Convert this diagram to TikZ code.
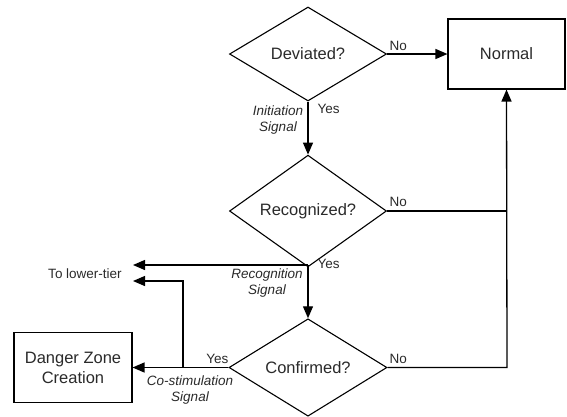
\documentclass[tikz,border=0pt]{standalone}
\usepackage{fontspec}
\setmainfont{Liberation Sans}
\usetikzlibrary{shapes.geometric,arrows.meta}
\definecolor{txt}{HTML}{2A2A2A}
\begin{document}
\begin{tikzpicture}[x=1pt,y=-1pt,
  line width=1.3pt,
  every node/.style={text=txt},
  decision/.style={diamond,draw=black,line width=1.1pt,minimum width=157pt,minimum height=94pt,inner sep=0pt,font=\fontsize{16.5}{19}\selectfont},
  box/.style={rectangle,draw=black,line width=1.1pt,minimum width=117pt,minimum height=70pt,inner sep=0pt,align=center,font=\fontsize{16.5}{20}\selectfont},
  lbl/.style={font=\fontsize{13.5}{15}\selectfont,inner sep=0pt},
  sig/.style={font=\fontsize{13.5}{16}\selectfont\itshape,inner sep=0pt,align=center},
  arr/.style={-{Triangle[length=12pt,width=10pt]}}
]
\useasboundingbox (0,0) rectangle (567,416);

\node[decision] (dev) at (308,54) {Deviated?};
\node[box] (normal) at (506.5,54) {Normal};
\node[decision] (rec) at (308,211) {Recognized?};
\node[decision,minimum width=158pt,minimum height=95pt] (conf) at (308,367.5) {Confirmed?};
\node[box,minimum width=118pt] (danger) at (73,367.5) {Danger Zone\\Creation};

\coordinate (j1) at (308,265);
\coordinate (tl1) at (133,265);
\coordinate (tl2) at (133,281);
\coordinate (c1) at (183,281);
\coordinate (c2) at (183,367.5);
\coordinate (r1) at (507,211);
\coordinate (r2) at (507,367.5);

\draw[arr] (dev.east) -- (normal.west);
\draw[arr] (dev.south) -- (rec.north);
\draw (rec.south) -- (j1);
\draw[arr] (j1) -- (conf.north);
\draw[arr] (j1) -- (tl1);
\draw[arr] (conf.west) -- (danger.east);
\draw[arr] (c2) -- (c1) -- (tl2);
\draw (rec.east) -- (r1);
\draw[arr] (conf.east) -- (r2) -- (normal.south);

\node[lbl,anchor=west] (no1) at (389,46) {No};
\node[lbl,anchor=west] (yes1) at (317,109) {Yes};
\node[sig] (sig1) at (278,120) {Initiation\\Signal};
\node[lbl,anchor=west] (no2) at (389,202) {No};
\node[lbl,anchor=west] (yes2) at (317,264) {Yes};
\node[sig] (sig2) at (267,283) {Recognition\\Signal};
\node[lbl] (lower) at (85,273.5) {To lower-tier};
\node[lbl,anchor=east] (yes3) at (229,359) {Yes};
\node[lbl,anchor=west] (no3) at (389,359) {No};
\node[sig] (sig3) at (190,389.5) {Co-stimulation\\Signal};
\end{tikzpicture}
\end{document}
